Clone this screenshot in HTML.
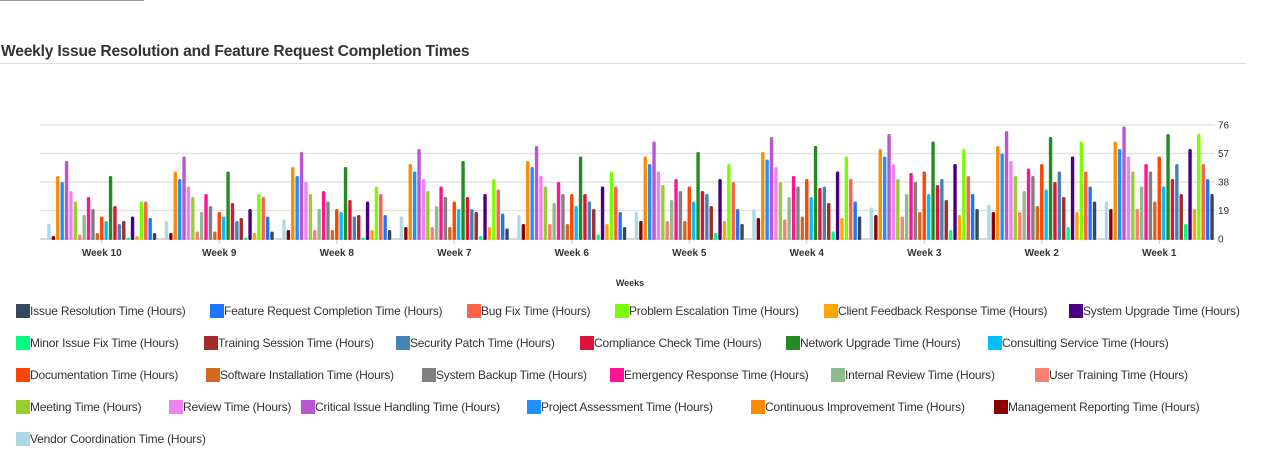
<!DOCTYPE html>
<html><head><meta charset="utf-8">
<style>
html,body{margin:0;padding:0;background:#fff;}
body{width:1280px;height:454px;overflow:hidden;position:relative;font-family:"Liberation Sans",sans-serif;}
.leg{position:absolute;height:14px;font-size:12px;color:#333;white-space:nowrap;letter-spacing:-0.2px;}
.leg i{position:absolute;left:0;top:0;width:14px;height:14px;}
.leg span{position:absolute;left:14px;top:0;line-height:14px;}
</style></head>
<body>
<div style="position:absolute;left:0;top:0;width:144px;height:1px;background:#999"></div>
<div style="position:absolute;left:1px;top:43px;font-size:15.6px;font-weight:bold;color:#333;letter-spacing:-0.2px">Weekly Issue Resolution and Feature Request Completion Times</div>
<div style="position:absolute;left:0;top:63px;width:1247px;height:1px;background:#ddd"></div>
<svg id="chart" width="1280" height="300" style="position:absolute;left:0;top:0"></svg>
<div id="legend"></div>
<script>
const categories=['Week 10','Week 9','Week 8','Week 7','Week 6','Week 5','Week 4','Week 3','Week 2','Week 1'];
const seriesNames=['Issue Resolution Time (Hours)','Feature Request Completion Time (Hours)','Bug Fix Time (Hours)','Problem Escalation Time (Hours)','Client Feedback Response Time (Hours)','System Upgrade Time (Hours)','Minor Issue Fix Time (Hours)','Training Session Time (Hours)','Security Patch Time (Hours)','Compliance Check Time (Hours)','Network Upgrade Time (Hours)','Consulting Service Time (Hours)','Documentation Time (Hours)','Software Installation Time (Hours)','System Backup Time (Hours)','Emergency Response Time (Hours)','Internal Review Time (Hours)','User Training Time (Hours)','Meeting Time (Hours)','Review Time (Hours)','Critical Issue Handling Time (Hours)','Project Assessment Time (Hours)','Continuous Improvement Time (Hours)','Management Reporting Time (Hours)','Vendor Coordination Time (Hours)'];
const seriesColors=['#34495e','#1f75fe','#ff6347','#7cfc00','#ffa500','#4b0082','#00ff7f','#a52a2a','#4682b4','#dc143c','#228b22','#00bfff','#ff4500','#d2691e','#808080','#ff1493','#8fbc8f','#fa8072','#9acd32','#ee82ee','#ba55d3','#1e90ff','#ff8c00','#8b0000','#add8e6'];
// values per series, in category order Week 10 .. Week 1
const issueRes=[4,5,6,7,8,10,15,20,25,30];
const featureReq=[14,15,16,17,18,20,25,30,35,40];
const bugFix=[25,28,30,33,35,38,40,42,45,50];
const problemEsc=[25,30,35,40,45,50,55,60,65,70];
const clientFeedback=[2,4,6,8,10,12,14,16,18,20];
const sysUpgrade=[15,20,25,30,35,40,45,50,55,60];
const minorFix=[1,1,1,2,3,4,5,6,8,10];
const trainingSession=[12,14,16,18,20,22,24,26,28,30];
const securityPatch=[10,12,15,20,25,30,35,40,45,50];
const compliance=[22,24,26,28,30,32,34,36,38,40];
const network=[42,45,48,52,55,58,62,65,68,70];
const consulting=[12,15,18,20,22,25,28,30,33,35];
const documentation=[15,18,20,25,30,35,40,45,50,55];
const softwareInstall=[4,5,6,8,10,12,15,18,22,25];
const sysBackup=[20,22,25,28,30,32,35,38,42,45];
const emergency=[28,30,32,35,38,40,42,44,47,50];
const internalReview=[16,18,20,22,24,26,28,30,32,35];
const userTraining=[3,5,6,8,10,12,13,15,18,20];
const meeting=[25,28,30,32,35,36,38,40,42,45];
const review=[32,35,38,40,42,45,48,50,52,55];
const critical=[52,55,58,60,62,65,68,70,72,75];
const projAssess=[38,40,42,45,48,50,53,55,57,60];
const contImprove=[42,45,48,50,52,55,58,60,62,65];
const mgmtReport=[2,4,6,8,10,12,14,16,18,20];
const vendor=[10,12,13,15,16,18,20,21,23,25];
const seriesValues=[issueRes,featureReq,bugFix,problemEsc,clientFeedback,sysUpgrade,minorFix,trainingSession,securityPatch,compliance,network,consulting,documentation,softwareInstall,sysBackup,emergency,internalReview,userTraining,meeting,review,critical,projAssess,contImprove,mgmtReport,vendor];
const yTicks=[0,19,38,57,76];

const NS='http://www.w3.org/2000/svg';
const svg=document.getElementById('chart');
const X0=43,X1=1218,Y0=239,Y1=125,YMAX=76;
const bandW=(X1-X0)/categories.length;
function yScale(v){return Y0-(v/YMAX)*(Y0-Y1);}
function xCenter(i){return X0+bandW*(i+0.5);}
function mk(tag,attrs){const e=document.createElementNS(NS,tag);for(const k in attrs)e.setAttribute(k,attrs[k]);svg.appendChild(e);return e;}
yTicks.forEach(t=>{
  const y=yScale(t);
  const g=mk('line',{x1:40,x2:1215,y1:y,y2:y,stroke:t===0?'#ccc':'#e3e3e3','stroke-width':1.5});
  
  
  const tx=mk('text',{x:1218,y:y+3.5,'font-size':10,fill:'#333','font-family':'Liberation Sans, sans-serif'});
  tx.textContent=t;
  
  
});
const n=seriesValues.length;
const pitch=4.4,bw=3.4;
categories.forEach((c,i)=>{
  const cx=xCenter(i);
  const tk=mk('line',{x1:cx,x2:cx,y1:Y0,y2:Y0+5,stroke:'#ccc'});
  
  
  const lbl=mk('text',{x:cx,y:256,'font-size':10,'font-weight':'bold',fill:'#333','text-anchor':'middle','font-family':'Liberation Sans, sans-serif'});
  lbl.textContent=c;
  
  
  for(let k=0;k<n;k++){
    const s=n-1-k;
    const v=seriesValues[s][i];
    const x=cx-(n*pitch)/2+k*pitch+(pitch-bw)/2;
    const y=yScale(v);
    const h=Math.max(Y0-y,1);
    const r=mk('rect',{x:x,y:Y0-h,width:bw,height:h+1,rx:1.5,fill:seriesColors[s]});
    
    
  }
});
const at=mk('text',{x:630,y:286,'font-size':9,'font-weight':'bold',fill:'#333','text-anchor':'middle','font-family':'Liberation Sans, sans-serif'});
at.textContent='Weeks';



const legendPos=[[16,304],[210,304],[467,304],[615,304],[824,304],[1069,304],
[16,336],[204,336],[396,336],[580,336],[786,336],[988,336],
[16,368],[206,368],[422,368],[610,368],[831,368],[1035,368],
[16,400],[169,400],[301,400],[527,400],[751,400],[994,400],
[16,432]];
const lg=document.getElementById('legend');
seriesNames.forEach((nm,i)=>{
  const d=document.createElement('div');
  d.className='leg';
  d.style.left=legendPos[i][0]+'px';d.style.top=legendPos[i][1]+'px';
  
  
  d.innerHTML='<i style="background:'+seriesColors[i]+'"></i><span>'+nm+'</span>';
  lg.appendChild(d);
});
</script>
</body></html>
